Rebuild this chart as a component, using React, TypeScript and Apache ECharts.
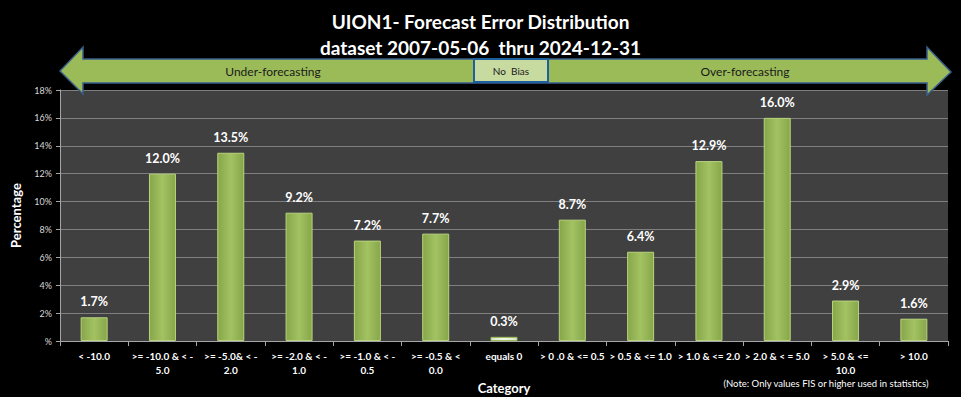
import React, { useEffect, useRef } from "react";
import * as echarts from "echarts";

const categories = [
  "< -10.0",
  ">= -10.0 & < -\n5.0",
  ">= -5.0& < -\n2.0",
  ">= -2.0 & < -\n1.0",
  ">= -1.0 & < -\n0.5",
  ">= -0.5 & <\n0.0",
  "equals 0",
  "> 0 .0 & <= 0.5",
  "> 0.5 & <= 1.0",
  "> 1.0 & <= 2.0",
  "> 2.0 & < = 5.0",
  "> 5.0 & <=\n10.0",
  "> 10.0",
];
const values = [1.7, 12.0, 13.5, 9.2, 7.2, 7.7, 0.3, 8.7, 6.4, 12.9, 16.0, 2.9, 1.6];
const titleLines = ["UION1- Forecast Error Distribution", "dataset 2007-05-06  thru 2024-12-31"];
const yMax = 18;
const yStep = 2;

const FONT = "Lato, 'Open Sans', sans-serif";

export default function App() {
  const ref = useRef<HTMLDivElement>(null);
  useEffect(() => {
    if (!ref.current) return;
    const chart = echarts.init(ref.current, null, { renderer: "svg" });
    const green = new echarts.graphic.LinearGradient(0, 0, 1, 0, [
      { offset: 0, color: "#86a64a" },
      { offset: 0.5, color: "#a3c262" },
      { offset: 1, color: "#86a64a" },
    ]);
    const zeroFill = new echarts.graphic.LinearGradient(0, 0, 1, 0, [
      { offset: 0, color: "#d8e4c0" },
      { offset: 0.5, color: "#f2f7e8" },
      { offset: 1, color: "#d8e4c0" },
    ]);
    const arrowPts = [
      [60, 71], [83, 47], [83, 59], [927, 59], [927, 47], [951, 72],
      [927, 95], [927, 83], [83, 83], [83, 94],
    ];
    chart.setOption({
      animation: false,
      backgroundColor: "#000000",
      textStyle: { fontFamily: FONT },
      title: {
        text: titleLines.join("\n"),
        left: "center",
        top: 3,
        textStyle: { color: "#ffffff", fontSize: 19, fontWeight: "bold", lineHeight: 26, fontFamily: FONT },
      },
      grid: {
        left: 60, right: 13, top: 90, bottom: 56,
        containLabel: false, outerBoundsMode: "none",
        show: true, backgroundColor: "#404040", borderWidth: 0,
      },
      xAxis: {
        type: "category",
        data: categories,
        name: "Category",
        nameLocation: "middle",
        nameGap: 37,
        nameTextStyle: { color: "#ffffff", fontSize: 13, fontWeight: "bold" },
        axisLine: { lineStyle: { color: "#a6a6a6", width: 1 } },
        axisTick: { show: true, length: 5, lineStyle: { color: "#a6a6a6" } },
        axisLabel: { color: "#ffffff", fontSize: 10, fontWeight: "bold", lineHeight: 14, margin: 8, interval: 0 },
      },
      yAxis: {
        type: "value",
        min: 0,
        max: yMax,
        interval: yStep,
        name: "Percentage",
        nameLocation: "middle",
        nameGap: 38,
        nameTextStyle: { color: "#ffffff", fontSize: 13, fontWeight: "bold" },
        axisLine: { show: true, lineStyle: { color: "#a6a6a6" } },
        axisTick: { show: true, length: 4, lineStyle: { color: "#a6a6a6" } },
        axisLabel: {
          color: "#d9d9d9",
          fontSize: 9,
          margin: 8,
          formatter: (v: number) => (v === 0 ? "%" : v + "%"),
        },
        splitLine: { lineStyle: { color: "#7f7f7f", width: 1 } },
      },
      series: [
        {
          type: "bar",
          data: values.map((v, i) => ({
            value: v,
            itemStyle: i === 6 ? { color: zeroFill, borderColor: "#9bbb59", borderWidth: 1 } : undefined,
          })),
          barWidth: 27,
          itemStyle: { color: green, borderColor: "#b9d47e", borderWidth: 1 },
          label: {
            show: true,
            position: "top",
            distance: 9,
            color: "#ffffff",
            fontSize: 12.5,
            fontWeight: "bold",
            formatter: (p: any) => Number(p.value).toFixed(1) + "%",
          },
        },
      ],
      graphic: [
        {
          type: "polygon",
          shape: { points: arrowPts },
          style: { fill: "#9bbb59", stroke: "#385d8a", lineWidth: 1.5 },
          z: 10,
        },
        {
          type: "rect",
          shape: { x: 474, y: 59, width: 74, height: 23 },
          style: { fill: "#c7dba1", stroke: "#1f5f9f", lineWidth: 2 },
          z: 11,
        },
        {
          type: "text",
          x: 273, y: 71,
          style: { text: "Under-forecasting", fill: "#1a1a1a", fontSize: 12, fontFamily: FONT, align: "center", verticalAlign: "middle" },
          z: 12,
        },
        {
          type: "text",
          x: 745, y: 71,
          style: { text: "Over-forecasting", fill: "#1a1a1a", fontSize: 12, fontFamily: FONT, align: "center", verticalAlign: "middle" },
          z: 12,
        },
        {
          type: "text",
          x: 511, y: 71,
          style: { text: "No  Bias", fill: "#1a1a1a", fontSize: 10, fontFamily: FONT, align: "center", verticalAlign: "middle" },
          z: 12,
        },
        {
          type: "text",
          x: 826, y: 383,
          style: { text: "(Note: Only values FIS or higher used in statistics)", fill: "#ffffff", fontSize: 9.5, fontFamily: FONT, align: "center", verticalAlign: "middle" },
          z: 12,
        },
      ],
    });
    return () => chart.dispose();
  }, []);
  return <div ref={ref} style={{ width: 961, height: 397, position: "absolute", left: 0, top: 0 }} />;
}
